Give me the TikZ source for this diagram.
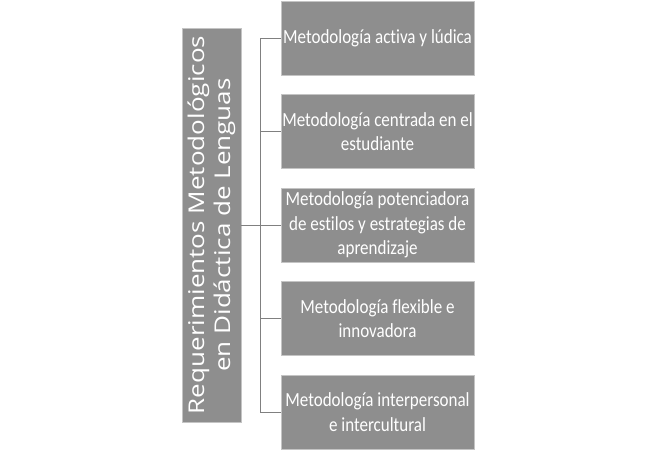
\documentclass[tikz,border=0pt]{standalone}
\usepackage{fontspec}
\setmainfont{Carlito}
\newfontfamily\boxfont[FakeStretch=0.85, RawFeature=-liga]{Carlito}
\newfontfamily\titlefont[FakeStretch=1.2]{Open Sans}
\definecolor{boxgray}{HTML}{8E8E8E}
\definecolor{boxedge}{HTML}{C4C4C4}
\definecolor{linegray}{HTML}{808080}
\tikzset{
  metodo/.style={rectangle, fill=boxgray, draw=boxedge, line width=0.6pt,
    text=white, minimum width=193pt, minimum height=74pt, inner sep=0pt,
    align=center, font=\boxfont\fontsize{20}{24.4}\selectfont},
  titulo/.style={rectangle, fill=boxgray, draw=boxedge, line width=0.6pt,
    text=white, rotate=90, minimum width=394pt, minimum height=59pt,
    inner sep=0pt, align=center, font=\titlefont\fontsize{21.7}{26}\selectfont},
  conector/.style={draw=linegray, line width=1pt}
}
\begin{document}
\begin{tikzpicture}[x=1pt, y=-1pt]
  \useasboundingbox (0,0) rectangle (657,451);
  \node[titulo] (req) at (211.5,225) {Requerimientos Metodológicos\\en Didáctica de Lenguas};
  \coordinate (hub) at (260,225);
  \node[metodo] (m1) at (377.5,38) {Metodología activa y lúdica};
  \node[metodo] (m2) at (377.5,131.5) {Metodología centrada en el\\estudiante};
  \node[metodo] (m3) at (377.5,225) {Metodología potenciadora\\de estilos y estrategias de\\aprendizaje};
  \node[metodo] (m4) at (377.5,318.5) {Metodología flexible e\\innovadora};
  \node[metodo] (m5) at (377.5,412) {Metodología interpersonal\\e intercultural};
  \begin{scope}[conector]
    \draw (req) to (hub);
    \draw (hub) |- (m1);
    \draw (hub) |- (m2);
    \draw (hub) to (m3);
    \draw (hub) |- (m4);
    \draw (hub) |- (m5);
  \end{scope}
\end{tikzpicture}
\end{document}
